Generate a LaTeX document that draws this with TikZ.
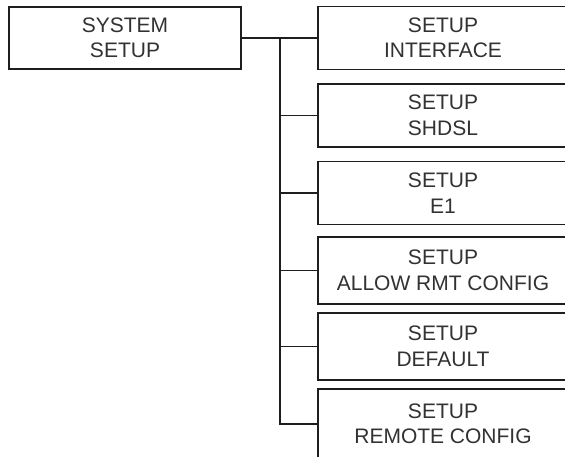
\documentclass[tikz,border=0pt]{standalone}
\usepackage{fontspec}
\setmainfont{Liberation Sans}
\begin{document}
\begin{tikzpicture}[x=1pt,y=1pt,
  menubox/.style={draw=lineColor,line width=1.7pt,fill=white,text=textColor,
    align=center,inner sep=0pt,font=\fontsize{21}{25.5}\selectfont},
  sysbox/.style={menubox,minimum width=232pt,minimum height=62pt},
  subbox/.style={menubox,minimum width=250pt,minimum height=63pt},
  link/.style={draw=lineColor,line width=1.6pt}]
\definecolor{lineColor}{RGB}{30,30,30}
\definecolor{textColor}{RGB}{50,50,50}
\path[use as bounding box,fill=white] (0,0) rectangle (565,457);
\begin{scope}
\path[clip] (0,0) rectangle (565,457);

\node[sysbox] (system) at (125,419) {SYSTEM\\SETUP};

\node[subbox] (setupIface) at (443,419) {SETUP\\INTERFACE};

\node[subbox] (setupShdsl) at (443,341.5) {SETUP\\SHDSL};

\node[subbox] (setupEone) at (443,264) {SETUP\\E1};

\node[subbox,minimum height=67pt] (setupAllow) at (443,186.5) {SETUP\\ALLOW RMT CONFIG};

\node[subbox,minimum height=67pt] (setupDefault) at (443,110.5) {SETUP\\DEFAULT};

\node[subbox,minimum height=70pt] (setupRemote) at (443,33) {SETUP\\REMOTE CONFIG};

\coordinate (trunk) at (280,419);

\path[link] (system.east) -- (setupIface.west);

\foreach \name in {setupShdsl,setupEone,setupAllow,setupDefault,setupRemote}
  \path[link] (trunk) |- (\name.west);
\end{scope}
\end{tikzpicture}
\end{document}
